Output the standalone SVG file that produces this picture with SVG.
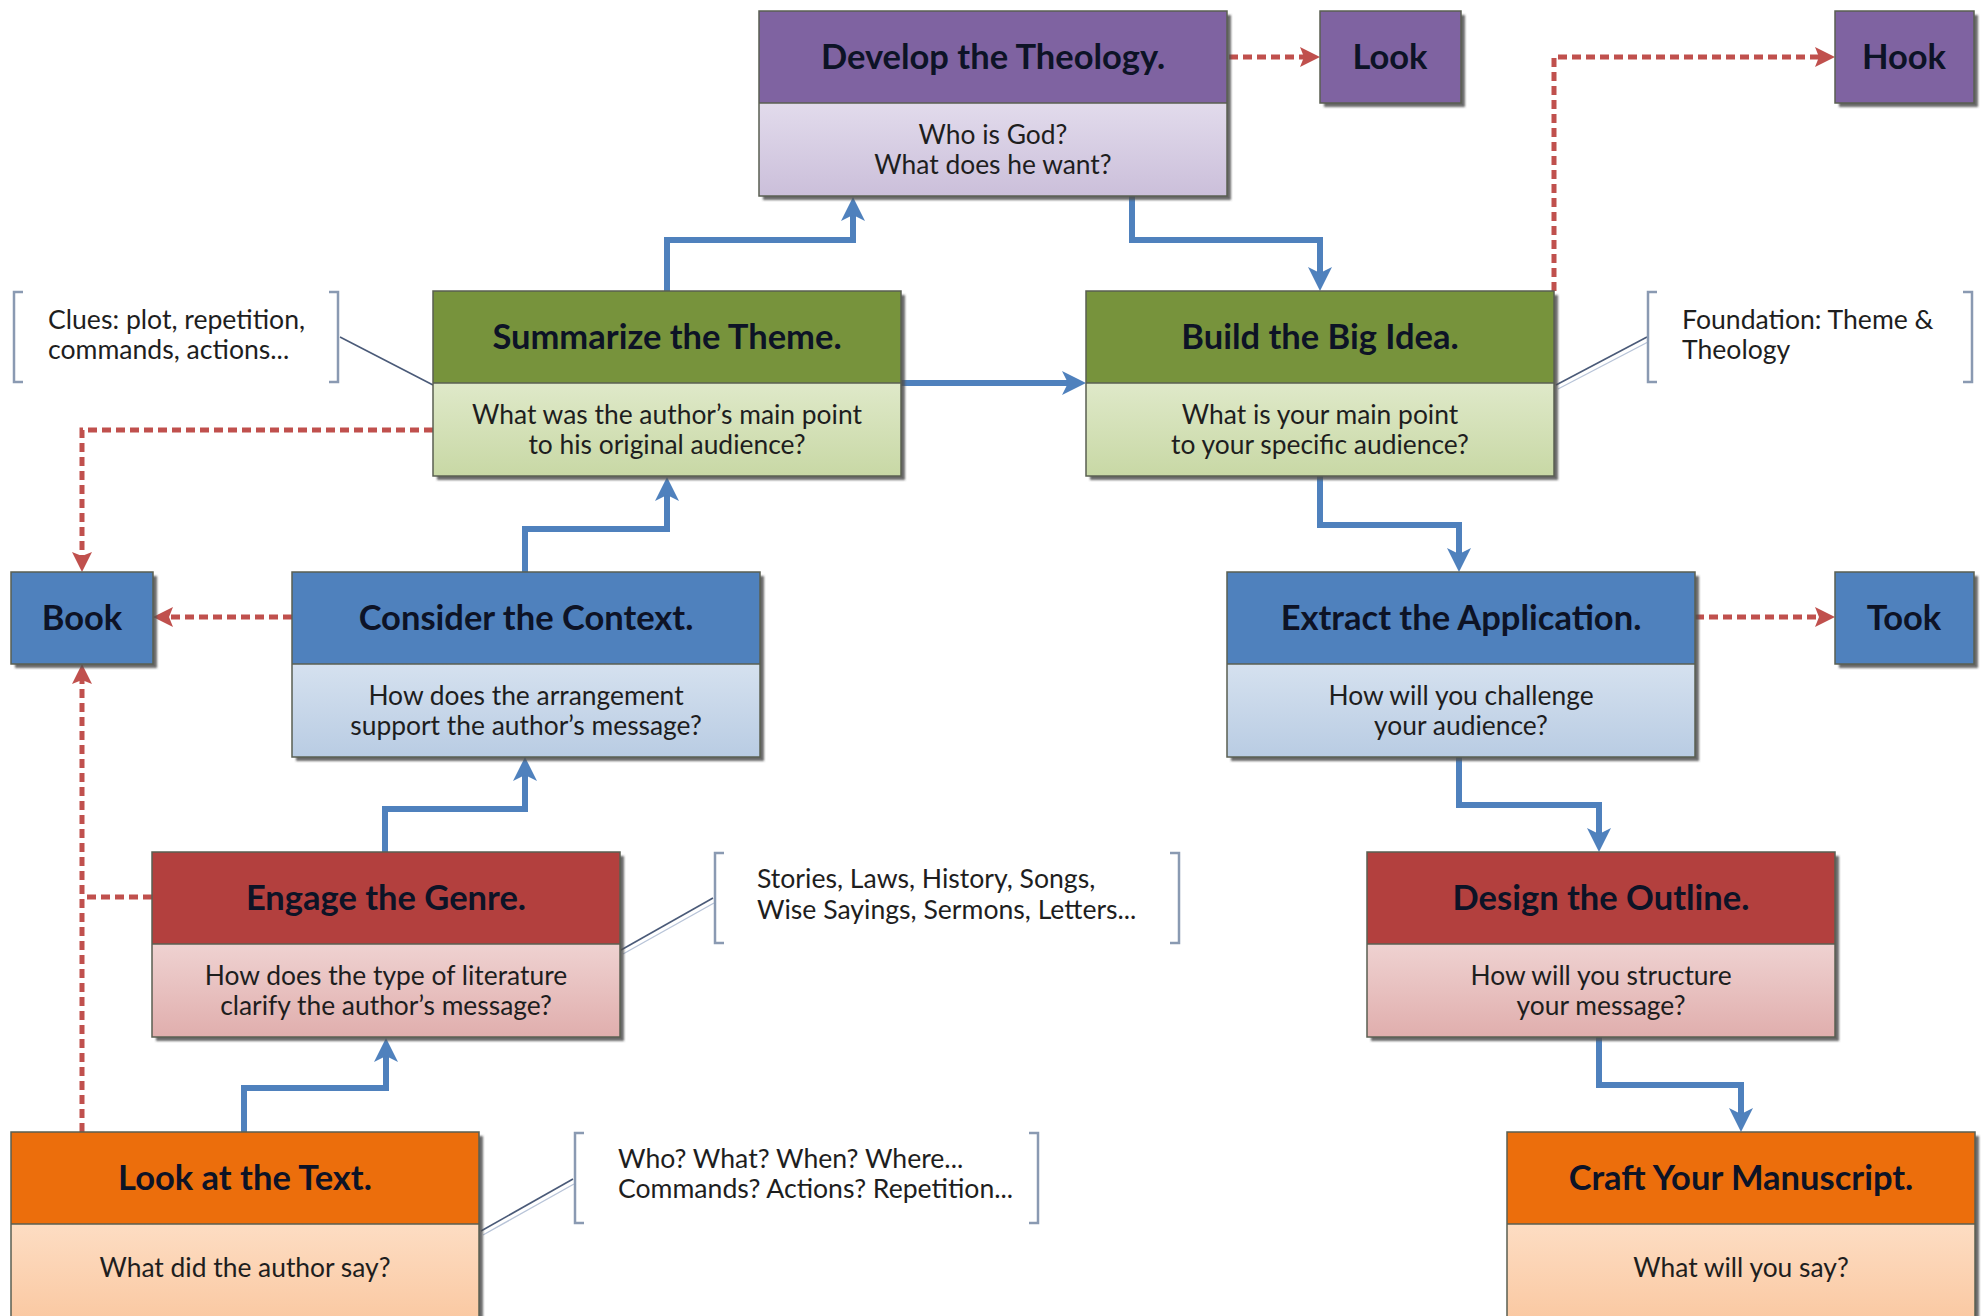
<svg xmlns="http://www.w3.org/2000/svg" width="1984" height="1316" viewBox="0 0 1984 1316">
<defs>
<style>
.hd{font-family:Lato,"Liberation Sans",sans-serif;font-weight:700;font-size:34.5px;fill:#0d1326;text-anchor:middle}
.bd{font-family:Lato,"Liberation Sans",sans-serif;font-size:26.4px;fill:#1e1e1e;text-anchor:middle}
.nt{font-family:Lato,"Liberation Sans",sans-serif;font-size:26.6px;fill:#1e1e1e}
.ol{fill:none;stroke:#5a5f52;stroke-width:1.5}
.blue{fill:none;stroke:#4F81BD;stroke-width:6;marker-end:url(#ba)}
.red{fill:none;stroke:#C0504D;stroke-width:5;stroke-dasharray:9 5}
.redA{fill:none;stroke:#C0504D;stroke-width:5;stroke-dasharray:9 5;marker-end:url(#ra)}
.br{fill:none;stroke:#8a9ab2;stroke-width:2.5}
.cl{fill:none;stroke:#4a5a78;stroke-width:1.6}
.cl2{fill:none;stroke:#b8c4d8;stroke-width:1.4}
</style>
<filter id="sh" x="-5%" y="-5%" width="115%" height="115%">
<feDropShadow dx="4" dy="4" stdDeviation="1.2" flood-color="#505050" flood-opacity="0.85"/>
</filter>
<marker id="ba" viewBox="0 0 24 24" refX="12" refY="12" markerWidth="24" markerHeight="24" markerUnits="userSpaceOnUse" orient="auto">
<path d="M0,0 L24,12 L0,24 L6,12 Z" fill="#4F81BD"/>
</marker>
<marker id="ra" viewBox="0 0 20 20" refX="10" refY="10" markerWidth="20" markerHeight="20" markerUnits="userSpaceOnUse" orient="auto">
<path d="M0,0 L20,10 L0,20 L4,10 Z" fill="#C0504D"/>
</marker>
<linearGradient id="gP" x1="0" y1="0" x2="0" y2="1"><stop offset="0" stop-color="#E2DBEC"/><stop offset="1" stop-color="#CBBFDA"/></linearGradient>
<linearGradient id="gG" x1="0" y1="0" x2="0" y2="1"><stop offset="0" stop-color="#DFE9C9"/><stop offset="1" stop-color="#C8D8A5"/></linearGradient>
<linearGradient id="gB" x1="0" y1="0" x2="0" y2="1"><stop offset="0" stop-color="#D5E1EF"/><stop offset="1" stop-color="#B9CCE3"/></linearGradient>
<linearGradient id="gR" x1="0" y1="0" x2="0" y2="1"><stop offset="0" stop-color="#EFD2D1"/><stop offset="1" stop-color="#E0AEAD"/></linearGradient>
<linearGradient id="gO" x1="0" y1="0" x2="0" y2="1"><stop offset="0" stop-color="#FDDDC3"/><stop offset="1" stop-color="#FAC69E"/></linearGradient>
</defs>
<rect width="1984" height="1316" fill="#ffffff"/>

<g id="connectors">
<path class="blue" d="M667,291 V240 H853 V209"/>
<path class="blue" d="M1132,196 V240 H1320 V279"/>
<path class="blue" d="M901,383 H1074"/>
<path class="blue" d="M525,572 V529 H667 V489"/>
<path class="blue" d="M385,852 V809 H525 V769"/>
<path class="blue" d="M244,1132 V1088 H386 V1050"/>
<path class="blue" d="M1320,476 V525 H1459 V560"/>
<path class="blue" d="M1459,757 V805 H1599 V840"/>
<path class="blue" d="M1599,1037 V1085 H1741 V1120"/>
<path class="redA" d="M1229,57 H1310"/>
<path class="redA" d="M1554,291 V57 H1825"/>
<path class="redA" d="M433,430 H82 V562"/>
<path class="redA" d="M292,617 H163"/>
<path class="redA" d="M1695,617 H1825"/>
<path class="red" d="M152,897 H82"/>
<path class="redA" d="M82,1132 V674"/>
<path class="cl" d="M340,337 L433,385"/>
<path class="cl" d="M1556,385 L1647,337"/>
<path class="cl2" d="M1558,389 L1648,342"/>
<path class="cl" d="M621,950 L713,898"/>
<path class="cl2" d="M623,954 L714,903"/>
<path class="cl" d="M481,1231 L573,1179"/>
<path class="cl2" d="M483,1235 L574,1184"/>
</g>

<g id="clues-note">
<path class="br" d="M23,292 H14 V382 H23"/>
<path class="br" d="M329,292 H338 V382 H329"/>
<text class="nt" x="48" y="329">Clues: plot, repetition,<tspan x="48" dy="30">commands, actions...</tspan></text>
</g>
<g id="foundation-note">
<path class="br" d="M1657,292 H1648 V382 H1657"/>
<path class="br" d="M1963,292 H1972 V382 H1963"/>
<text class="nt" x="1682" y="329">Foundation: Theme &amp;<tspan x="1682" dy="30">Theology</tspan></text>
</g>
<g id="genre-note">
<path class="br" d="M724,853 H715 V943 H724"/>
<path class="br" d="M1170,853 H1179 V943 H1170"/>
<text class="nt" x="757" y="888">Stories, Laws, History, Songs,<tspan x="757" dy="31">Wise Sayings, Sermons, Letters...</tspan></text>
</g>
<g id="text-note">
<path class="br" d="M584,1133 H575 V1223 H584"/>
<path class="br" d="M1029,1133 H1038 V1223 H1029"/>
<text class="nt" x="618" y="1168">Who? What? When? Where...<tspan x="618" dy="30">Commands? Actions? Repetition...</tspan></text>
</g>

<g id="develop">
<rect x="759" y="11" width="468" height="185" fill="#fff" filter="url(#sh)"/>
<rect x="759" y="11" width="468" height="92" fill="#7F63A1"/>
<rect x="759" y="103" width="468" height="93" fill="url(#gP)"/>
<rect class="ol" x="759" y="11" width="468" height="185"/>
<line class="ol" x1="759" y1="103" x2="1227" y2="103"/>
<text class="hd" x="993" y="69">Develop the Theology.</text>
<text class="bd" x="993" y="143.5">Who is God?<tspan x="993" dy="30.5">What does he want?</tspan></text>
</g>

<g id="look">
<rect x="1320" y="11" width="141" height="92" fill="#7F63A1" filter="url(#sh)"/>
<rect class="ol" x="1320" y="11" width="141" height="92"/>
<text class="hd" x="1390" y="69">Look</text>
</g>
<g id="hook">
<rect x="1835" y="11" width="139" height="92" fill="#7F63A1" filter="url(#sh)"/>
<rect class="ol" x="1835" y="11" width="139" height="92"/>
<text class="hd" x="1904" y="69">Hook</text>
</g>

<g id="summarize">
<rect x="433" y="291" width="468" height="185" fill="#fff" filter="url(#sh)"/>
<rect x="433" y="291" width="468" height="92" fill="#77933C"/>
<rect x="433" y="383" width="468" height="93" fill="url(#gG)"/>
<rect class="ol" x="433" y="291" width="468" height="185"/>
<line class="ol" x1="433" y1="383" x2="901" y2="383"/>
<text class="hd" x="667" y="349">Summarize the Theme.</text>
<text class="bd" x="667" y="423.5">What was the author’s main point<tspan x="667" dy="30.5">to his original audience?</tspan></text>
</g>

<g id="build">
<rect x="1086" y="291" width="468" height="185" fill="#fff" filter="url(#sh)"/>
<rect x="1086" y="291" width="468" height="92" fill="#77933C"/>
<rect x="1086" y="383" width="468" height="93" fill="url(#gG)"/>
<rect class="ol" x="1086" y="291" width="468" height="185"/>
<line class="ol" x1="1086" y1="383" x2="1554" y2="383"/>
<text class="hd" x="1320" y="349">Build the Big Idea.</text>
<text class="bd" x="1320" y="423.5">What is your main point<tspan x="1320" dy="30.5">to your specific audience?</tspan></text>
</g>

<g id="book">
<rect x="11" y="572" width="142" height="92" fill="#4F81BD" filter="url(#sh)"/>
<rect class="ol" x="11" y="572" width="142" height="92"/>
<text class="hd" x="82" y="630">Book</text>
</g>

<g id="consider">
<rect x="292" y="572" width="468" height="185" fill="#fff" filter="url(#sh)"/>
<rect x="292" y="572" width="468" height="92" fill="#4F81BD"/>
<rect x="292" y="664" width="468" height="93" fill="url(#gB)"/>
<rect class="ol" x="292" y="572" width="468" height="185"/>
<line class="ol" x1="292" y1="664" x2="760" y2="664"/>
<text class="hd" x="526" y="630">Consider the Context.</text>
<text class="bd" x="526" y="704.5">How does the arrangement<tspan x="526" dy="30.5">support the author’s message?</tspan></text>
</g>

<g id="extract">
<rect x="1227" y="572" width="468" height="185" fill="#fff" filter="url(#sh)"/>
<rect x="1227" y="572" width="468" height="92" fill="#4F81BD"/>
<rect x="1227" y="664" width="468" height="93" fill="url(#gB)"/>
<rect class="ol" x="1227" y="572" width="468" height="185"/>
<line class="ol" x1="1227" y1="664" x2="1695" y2="664"/>
<text class="hd" x="1461" y="630">Extract the Application.</text>
<text class="bd" x="1461" y="704.5">How will you challenge<tspan x="1461" dy="30.5">your audience?</tspan></text>
</g>

<g id="took">
<rect x="1835" y="572" width="139" height="92" fill="#4F81BD" filter="url(#sh)"/>
<rect class="ol" x="1835" y="572" width="139" height="92"/>
<text class="hd" x="1904" y="630">Took</text>
</g>

<g id="engage">
<rect x="152" y="852" width="468" height="185" fill="#fff" filter="url(#sh)"/>
<rect x="152" y="852" width="468" height="92" fill="#B3403E"/>
<rect x="152" y="944" width="468" height="93" fill="url(#gR)"/>
<rect class="ol" x="152" y="852" width="468" height="185"/>
<line class="ol" x1="152" y1="944" x2="620" y2="944"/>
<text class="hd" x="386" y="910">Engage the Genre.</text>
<text class="bd" x="386" y="984.5">How does the type of literature<tspan x="386" dy="30.5">clarify the author’s message?</tspan></text>
</g>

<g id="design">
<rect x="1367" y="852" width="468" height="185" fill="#fff" filter="url(#sh)"/>
<rect x="1367" y="852" width="468" height="92" fill="#B3403E"/>
<rect x="1367" y="944" width="468" height="93" fill="url(#gR)"/>
<rect class="ol" x="1367" y="852" width="468" height="185"/>
<line class="ol" x1="1367" y1="944" x2="1835" y2="944"/>
<text class="hd" x="1601" y="910">Design the Outline.</text>
<text class="bd" x="1601" y="984.5">How will you structure<tspan x="1601" dy="30.5">your message?</tspan></text>
</g>

<g id="look-text">
<rect x="11" y="1132" width="468" height="200" fill="#fff" filter="url(#sh)"/>
<rect x="11" y="1132" width="468" height="92" fill="#EC6E0C"/>
<rect x="11" y="1224" width="468" height="108" fill="url(#gO)"/>
<rect class="ol" x="11" y="1132" width="468" height="200"/>
<line class="ol" x1="11" y1="1224" x2="479" y2="1224"/>
<text class="hd" x="245" y="1190">Look at the Text.</text>
<text class="bd" x="245" y="1277">What did the author say?</text>
</g>

<g id="craft">
<rect x="1507" y="1132" width="468" height="200" fill="#fff" filter="url(#sh)"/>
<rect x="1507" y="1132" width="468" height="92" fill="#EC6E0C"/>
<rect x="1507" y="1224" width="468" height="108" fill="url(#gO)"/>
<rect class="ol" x="1507" y="1132" width="468" height="200"/>
<line class="ol" x1="1507" y1="1224" x2="1975" y2="1224"/>
<text class="hd" x="1741" y="1190">Craft Your Manuscript.</text>
<text class="bd" x="1741" y="1277">What will you say?</text>
</g>
</svg>
